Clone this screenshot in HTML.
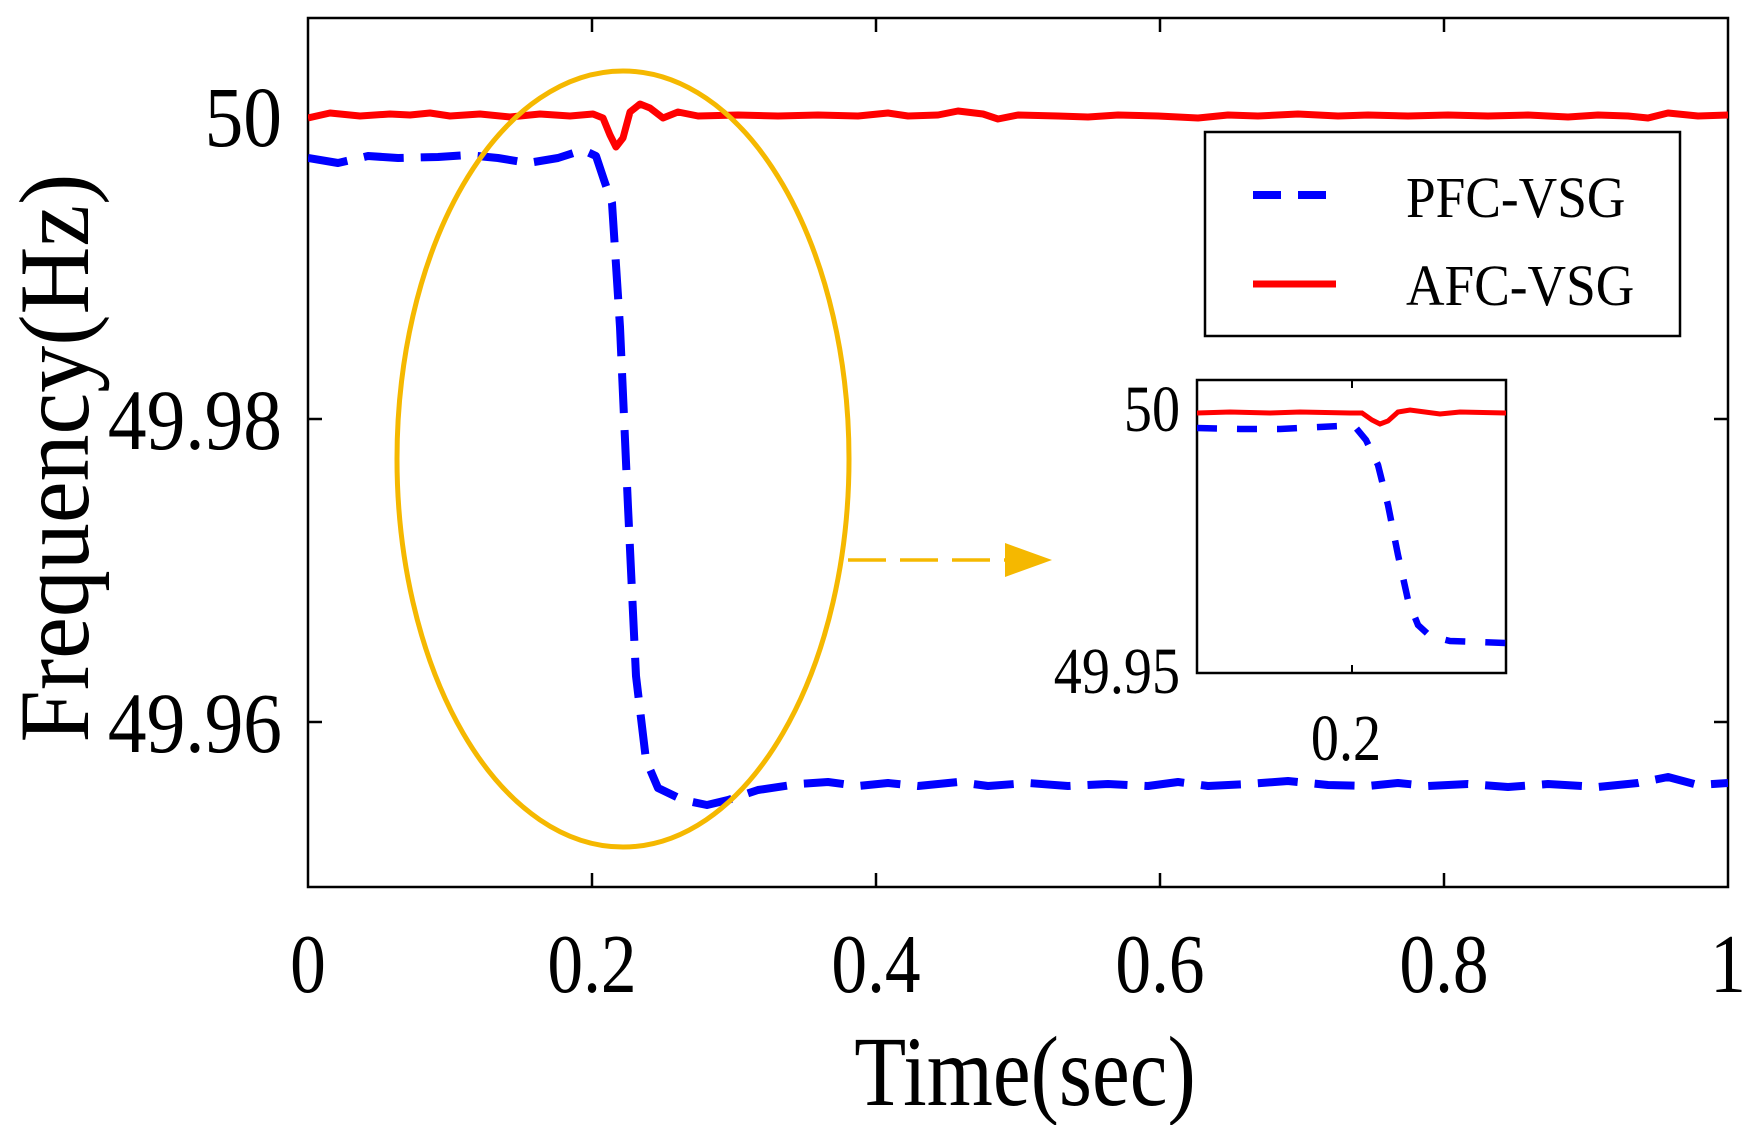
<!DOCTYPE html>
<html><head><meta charset="utf-8"><style>
html,body{margin:0;padding:0;background:#fff;}
svg{display:block;}
text{font-family:"Liberation Serif",serif;fill:#000;}
</style></head><body>
<svg width="1759" height="1125" viewBox="0 0 1759 1125" xmlns="http://www.w3.org/2000/svg">
<defs><clipPath id="cp"><rect x="308" y="18" width="1420" height="869"/></clipPath>
<clipPath id="ci"><rect x="1197" y="380" width="309" height="293"/></clipPath></defs>
<rect x="308" y="18" width="1420" height="869" fill="none" stroke="#000" stroke-width="2.5"/>
<g stroke="#000" stroke-width="2.5">
<line x1="592" y1="887" x2="592" y2="873"/><line x1="876" y1="887" x2="876" y2="873"/><line x1="1160" y1="887" x2="1160" y2="873"/><line x1="1444" y1="887" x2="1444" y2="873"/>
<line x1="592" y1="18" x2="592" y2="32"/><line x1="876" y1="18" x2="876" y2="32"/><line x1="1160" y1="18" x2="1160" y2="32"/><line x1="1444" y1="18" x2="1444" y2="32"/>
<line x1="308" y1="116" x2="322" y2="116"/><line x1="308" y1="419" x2="322" y2="419"/><line x1="308" y1="722" x2="322" y2="722"/>
<line x1="1728" y1="116" x2="1714" y2="116"/><line x1="1728" y1="419" x2="1714" y2="419"/><line x1="1728" y1="722" x2="1714" y2="722"/>
</g>
<g font-size="86" text-anchor="end">
<text x="282" y="146" transform="translate(282 0) scale(0.9 1) translate(-282 0)">50</text>
<text x="282" y="449" transform="translate(282 0) scale(0.9 1) translate(-282 0)">49.98</text>
<text x="282" y="752" transform="translate(282 0) scale(0.9 1) translate(-282 0)">49.96</text>
</g>
<g font-size="84" text-anchor="middle">
<text x="308" y="992" transform="translate(308 0) scale(0.85 1) translate(-308 0)">0</text>
<text x="592" y="992" transform="translate(592 0) scale(0.85 1) translate(-592 0)">0.2</text>
<text x="876" y="992" transform="translate(876 0) scale(0.85 1) translate(-876 0)">0.4</text>
<text x="1160" y="992" transform="translate(1160 0) scale(0.85 1) translate(-1160 0)">0.6</text>
<text x="1444" y="992" transform="translate(1444 0) scale(0.85 1) translate(-1444 0)">0.8</text>
<text x="1728" y="992" transform="translate(1728 0) scale(0.85 1) translate(-1728 0)">1</text>
</g>
<text x="1025" y="1105" font-size="100" text-anchor="middle" transform="translate(1025 0) scale(0.85 1) translate(-1025 0)">Time(sec)</text>
<text x="0" y="0" font-size="100" text-anchor="middle" transform="translate(88 458) rotate(-90) scale(0.94 1)">Frequency(Hz)</text>
<g clip-path="url(#cp)" fill="none">
<path stroke="#f00" stroke-width="7" stroke-linejoin="round" d="M308,118 L330,113 L360,116 L390,114 L410,115 L430,113 L450,116 L480,114 L510,117 L540,114 L570,116 L593,114 L603,118 L610,135 L616,147 L623,138 L630,112 L640,104 L650,108 L663,118 L678,112 L698,116 L738,115 L778,116 L818,115 L858,116 L888,113 L908,116 L938,115 L958,111 L983,114 L998,119 L1018,115 L1058,116 L1088,117 L1118,115 L1158,116 L1198,118 L1228,115 L1258,116 L1298,114 L1338,116 L1368,115 L1408,116 L1448,115 L1488,116 L1528,115 L1568,117 L1598,115 L1628,116 L1648,118 L1668,113 L1698,116 L1728,115"/>
<path stroke="#0000ff" stroke-width="8" stroke-dasharray="40 17" stroke-linejoin="round" d="M308,158 L338,163 L368,156 L398,158 L438,157 L468,155 L498,158 L528,163 L558,158 L583,150 L596,156 L604,180 L612,203 L620,327 L628,507 L636,676 L646,760 L658,788 L683,800 L707,805 L728,800 L758,790 L798,784 L828,782 L858,786 L888,783 L918,786 L958,782 L988,786 L1028,783 L1068,786 L1108,784 L1148,786 L1178,782 L1208,786 L1248,784 L1288,781 L1328,785 L1368,786 L1398,783 L1428,786 L1468,784 L1508,787 L1548,784 L1598,787 L1638,783 L1668,777 L1698,785 L1728,783"/>
</g>
<ellipse cx="623" cy="459" rx="226" ry="388" fill="none" stroke="#F5B800" stroke-width="5"/>
<line x1="848" y1="560" x2="1005" y2="560" stroke="#F5B800" stroke-width="3.5" stroke-dasharray="38 14"/>
<polygon points="1005,543 1052,560 1005,577" fill="#F5B800"/>
<rect x="1205" y="132" width="475" height="204" fill="#fff" stroke="#000" stroke-width="2.5"/>
<line x1="1253" y1="195" x2="1336" y2="195" stroke="#0000ff" stroke-width="8" stroke-dasharray="28 17"/>
<line x1="1253" y1="284" x2="1336" y2="284" stroke="#f00" stroke-width="7"/>
<g font-size="58">
<text x="1406" y="217" transform="translate(1406 0) scale(0.92 1) translate(-1406 0)">PFC-VSG</text>
<text x="1406" y="305" transform="translate(1406 0) scale(0.92 1) translate(-1406 0)">AFC-VSG</text>
</g>
<rect x="1197" y="380" width="309" height="293" fill="#fff" stroke="#000" stroke-width="2.5"/>
<g stroke="#000" stroke-width="2"><line x1="1352" y1="673" x2="1352" y2="665"/><line x1="1352" y1="380" x2="1352" y2="388"/></g>
<g clip-path="url(#ci)" fill="none">
<path stroke="#f00" stroke-width="5" d="M1197,413 L1230,412 L1270,413 L1300,412 L1350,413 L1362,413 L1372,420 L1380,424 L1388,421 L1398,412 L1410,410 L1425,412 L1440,414 L1460,412 L1506,413"/>
<path stroke="#0000ff" stroke-width="6.5" stroke-dasharray="20 20" d="M1197,428 L1240,429 L1280,429 L1340,426 L1356,428 L1366,440 L1378,465 L1388,505 L1398,555 L1408,600 L1418,625 L1430,636 L1450,641 L1506,643"/>
</g>
<text x="1180" y="431" font-size="66" text-anchor="end" transform="translate(1180 0) scale(0.85 1) translate(-1180 0)">50</text>
<text x="1180" y="693" font-size="66" text-anchor="end" transform="translate(1180 0) scale(0.85 1) translate(-1180 0)">49.95</text>
<text x="1346" y="760" font-size="66" text-anchor="middle" transform="translate(1346 0) scale(0.85 1) translate(-1346 0)">0.2</text>
</svg>
</body></html>
